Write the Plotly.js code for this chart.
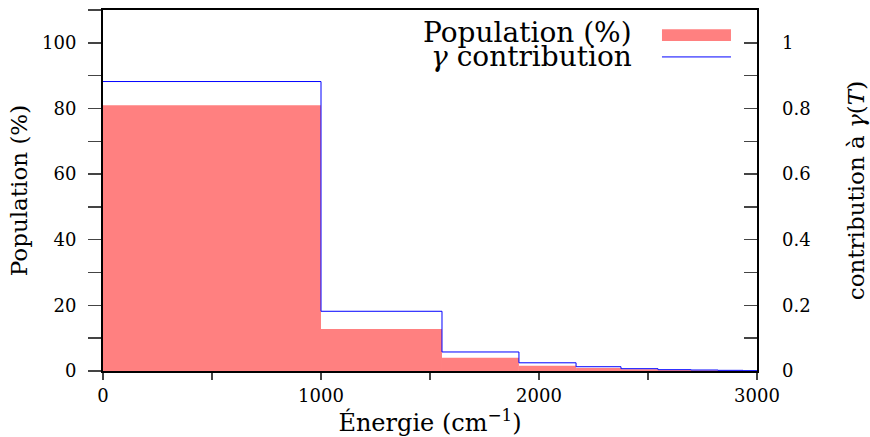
<!DOCTYPE html>
<html>
<head>
<meta charset="utf-8">
<script src="https://cdn.plot.ly/plotly-3.0.1.min.js"></script>
<style>html,body{margin:0;padding:0;background:#fff;}#chart{width:870px;height:437px;}</style>
</head>
<body>
<div id="chart"></div>
<script>
// Bin edges in energy (cm^-1)
const binEdges = [0, 1000, 1555, 1908, 2170, 2376, 2546, 2697, 2821, 2936, 3000];
// Population (%) per bin
const population = [81.0, 12.8, 4.0, 1.6, 0.9, 0.5, 0.3, 0.2, 0.1, 0.0];
// gamma contribution per bin
const gammaContribution = [0.882, 0.182, 0.058, 0.025, 0.013, 0.007, 0.004, 0.003, 0.002, 0.001];

const seriesNames = ["Population (%)", "<i>γ</i> contribution"];

const leftEdges = binEdges.slice(0, -1);
const widths = leftEdges.map((e, i) => binEdges[i + 1] - e);

const FONT = "DejaVu Serif";
const RED = "rgb(255,128,128)";
const BLUE = "#0000ff";

const traces = [
  {
    type: "bar",
    x: leftEdges,
    y: population,
    width: widths,
    offset: 0,
    marker: {color: RED, line: {width: 0}},
    name: seriesNames[0],
    showlegend: false,
    hoverinfo: "skip"
  },
  {
    type: "scatter",
    mode: "lines",
    x: binEdges,
    y: gammaContribution.concat([gammaContribution[gammaContribution.length - 1]]),
    line: {shape: "hv", color: BLUE, width: 1},
    yaxis: "y2",
    name: seriesNames[1],
    showlegend: false,
    hoverinfo: "skip"
  }
];

const layout = {
  width: 870,
  height: 437,
  margin: {l: 103, r: 113, t: 10, b: 66, pad: 0},
  paper_bgcolor: "#fff",
  plot_bgcolor: "#fff",
  font: {family: FONT, size: 18, color: "#000"},
  showlegend: false,
  xaxis: {
    range: [0, 3000],
    tickvals: [0, 1000, 2000, 3000],
    ticks: "outside",
    ticklen: 7,
    tickcolor: "#444",
    tickwidth: 1.5,
    minor: {ticks: "outside", dtick: 500, tick0: 0, ticklen: 7, tickcolor: "#444", tickwidth: 1.5},
    showline: true,
    mirror: true,
    linecolor: "#000",
    linewidth: 2,
    showgrid: false,
    zeroline: false,
    tickfont: {family: FONT, size: 18},
    title: {text: "Énergie (cm<sup>−1</sup>)", font: {family: FONT, size: 24}, standoff: 2}
  },
  yaxis: {
    range: [0, 110],
    tickvals: [0, 20, 40, 60, 80, 100],
    ticks: "outside",
    ticklen: 13,
    tickcolor: "#444",
    tickwidth: 1.5,
    minor: {ticks: "outside", dtick: 10, tick0: 0, ticklen: 13, tickcolor: "#444", tickwidth: 1.5},
    showline: true,
    mirror: true,
    linecolor: "#000",
    linewidth: 2,
    showgrid: false,
    zeroline: false,
    ticklabelstandoff: 8,
    tickfont: {family: FONT, size: 18},
    title: {text: "Population (%)", font: {family: FONT, size: 23}, standoff: 8}
  },
  yaxis2: {
    overlaying: "y",
    side: "right",
    range: [0, 1.1],
    tickvals: [0, 0.2, 0.4, 0.6, 0.8, 1],
    ticktext: ["0", "0.2", "0.4", "0.6", "0.8", "1"],
    ticks: "inside",
    ticklen: 13,
    tickcolor: "#444",
    tickwidth: 1.5,
    minor: {ticks: "inside", dtick: 0.1, tick0: 0, ticklen: 13, tickcolor: "#444", tickwidth: 1.5},
    showline: false,
    showgrid: false,
    zeroline: false,
    ticklabelstandoff: 24,
    tickfont: {family: FONT, size: 18},
    title: {text: "contribution à <i>γ</i>(<i>T</i>)", font: {family: FONT, size: 23}, standoff: 38}
  },
  shapes: [
    {type: "rect", xref: "paper", yref: "paper", x0: 0.8547, x1: 0.9602, y0: 0.914, y1: 0.947,
     fillcolor: RED, line: {width: 0}},
    {type: "line", xref: "paper", yref: "paper", x0: 0.8547, x1: 0.9602, y0: 0.870, y1: 0.870,
     line: {color: BLUE, width: 1}}
  ],
  annotations: [
    {xref: "paper", yref: "paper", x: 0.812, y: 0.939, xanchor: "right", yanchor: "middle",
     text: seriesNames[0], showarrow: false, font: {family: FONT, size: 28, color: "#000"}},
    {xref: "paper", yref: "paper", x: 0.812, y: 0.872, xanchor: "right", yanchor: "middle",
     text: seriesNames[1], showarrow: false, font: {family: FONT, size: 28, color: "#000"}}
  ]
};

Plotly.newPlot("chart", traces, layout, {displayModeBar: false, staticPlot: true});
</script>
</body>
</html>
